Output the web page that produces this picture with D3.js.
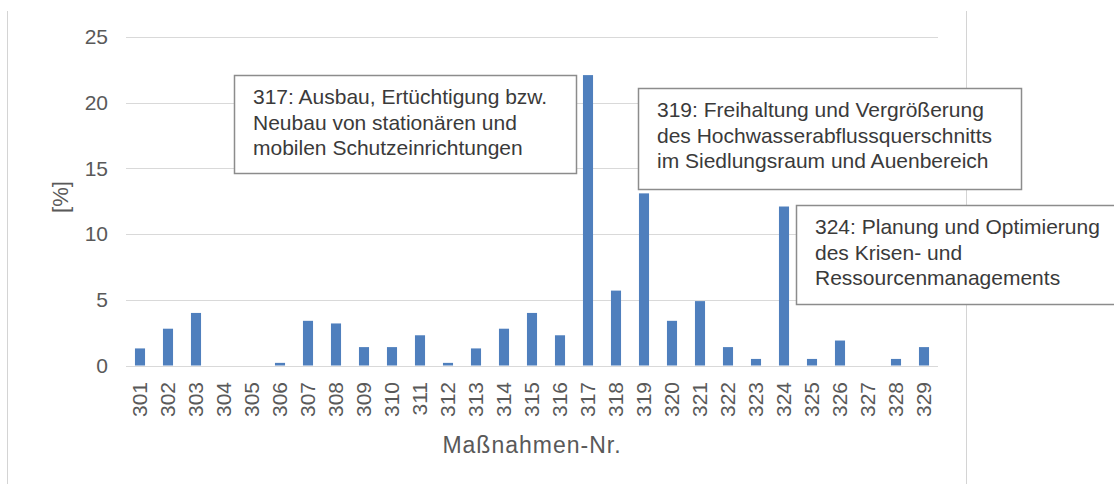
<!DOCTYPE html>
<html>
<head>
<meta charset="utf-8">
<script src="https://cdn.jsdelivr.net/npm/d3@7"></script>
<style>
  body { margin: 0; background: #fff; }
  text { font-family: "Liberation Sans", Arial, sans-serif; }
</style>
</head>
<body>
<svg width="1114" height="484"></svg>
<script>
// Maßnahmen-Nr. 301..329 and their share in percent
var categories = ["301","302","303","304","305","306","307","308","309","310",
                  "311","312","313","314","315","316","317","318","319","320",
                  "321","322","323","324","325","326","327","328","329"];
var values = [1.3, 2.8, 4.0, 0, 0, 0.2, 3.4, 3.2, 1.4, 1.4,
              2.3, 0.2, 1.3, 2.8, 4.0, 2.3, 22.1, 5.7, 13.1, 3.4,
              4.9, 1.4, 0.5, 12.1, 0.5, 1.9, 0, 0.5, 1.4];
var yTicks = [0, 5, 10, 15, 20, 25];

var noteTexts = [
  ["317: Ausbau, Ertüchtigung bzw.", "Neubau von stationären und", "mobilen Schutzeinrichtungen"],
  ["319: Freihaltung und Vergrößerung", "des Hochwasserabflussquerschnitts", "im Siedlungsraum und Auenbereich"],
  ["324: Planung und Optimierung", "des Krisen- und", "Ressourcenmanagements"]
];

var svg = d3.select("svg"),
    plotLeft = 126, plotRight = 938, plotTop = 37, plotBottom = 365.5;

var x = d3.scaleBand()
    .domain(categories)
    .range([plotLeft, plotRight])
    .paddingInner(0.64)
    .paddingOuter(0.32);

var y = d3.scaleLinear()
    .domain([0, 25])
    .range([plotBottom, plotTop]);

// chart area frame lines
svg.append("line").attr("x1", 7.5).attr("x2", 7.5).attr("y1", 11).attr("y2", 484)
    .attr("stroke", "#d4d4d4");
svg.append("line").attr("x1", 966.5).attr("x2", 966.5).attr("y1", 11).attr("y2", 484)
    .attr("stroke", "#d4d4d4");

// gridlines
svg.append("g").selectAll("line")
    .data(yTicks)
    .enter().append("line")
    .attr("x1", plotLeft).attr("x2", plotRight)
    .attr("y1", function(d) { return Math.round(y(d)) + 0.5; })
    .attr("y2", function(d) { return Math.round(y(d)) + 0.5; })
    .attr("stroke", "#d9d9d9");

svg.append("g").selectAll("text")
    .data(yTicks)
    .enter().append("text")
    .attr("x", 108)
    .attr("y", function(d) { return y(d); })
    .attr("dy", "0.35em")
    .attr("text-anchor", "end")
    .attr("fill", "#595959")
    .style("font-size", "21px")
    .text(function(d) { return d; });

// bars
svg.append("g").selectAll("rect")
    .data(values)
    .enter().append("rect")
    .attr("x", function(d, i) { return x(categories[i]); })
    .attr("width", x.bandwidth())
    .attr("y", function(d) { return y(d); })
    .attr("height", function(d) { return y(0) - y(d); })
    .attr("fill", "#4f7fbd");

// x tick labels, rotated
svg.append("g").selectAll("text")
    .data(categories)
    .enter().append("text")
    .attr("transform", function(d) {
      return "translate(" + (x(d) + x.bandwidth() / 2) + ",382) rotate(-90)";
    })
    .attr("dy", "0.35em")
    .attr("text-anchor", "end")
    .attr("fill", "#595959")
    .style("font-size", "21px")
    .text(function(d) { return d; });

// axis titles
svg.append("text")
    .attr("x", (plotLeft + plotRight) / 2)
    .attr("y", 453)
    .attr("text-anchor", "middle")
    .attr("fill", "#595959")
    .style("font-size", "23px")
    .style("letter-spacing", "1px")
    .text("Maßnahmen-Nr.");

svg.append("text")
    .attr("transform", "translate(60,197) rotate(-90)")
    .attr("dy", "0.35em")
    .attr("text-anchor", "middle")
    .attr("fill", "#595959")
    .style("font-size", "22px")
    .text("[%]");

// annotation boxes
var boxes = [
  { x: 234, y: 75, w: 342, h: 98 },
  { x: 638, y: 88, w: 383, h: 101 },
  { x: 796, y: 205, w: 340, h: 99 }
];

var note = svg.append("g").selectAll("g")
    .data(noteTexts)
    .enter().append("g")
    .attr("transform", function(d, i) { return "translate(" + boxes[i].x + "," + boxes[i].y + ")"; });

note.append("rect")
    .attr("x", 0.5).attr("y", 0.5)
    .attr("width", function(d, i) { return boxes[i].w; })
    .attr("height", function(d, i) { return boxes[i].h; })
    .attr("fill", "#fff")
    .attr("stroke", "#8c8c8c")
    .attr("stroke-width", 1.5);

note.selectAll("text")
    .data(function(d) { return d; })
    .enter().append("text")
    .attr("x", 19)
    .attr("y", function(d, i) { return 22 + i * 25.5; })
    .attr("dy", "0.35em")
    .attr("fill", "#3a3a3a")
    .style("font-size", "21px")
    .text(function(d) { return d; });
</script>
</body>
</html>
